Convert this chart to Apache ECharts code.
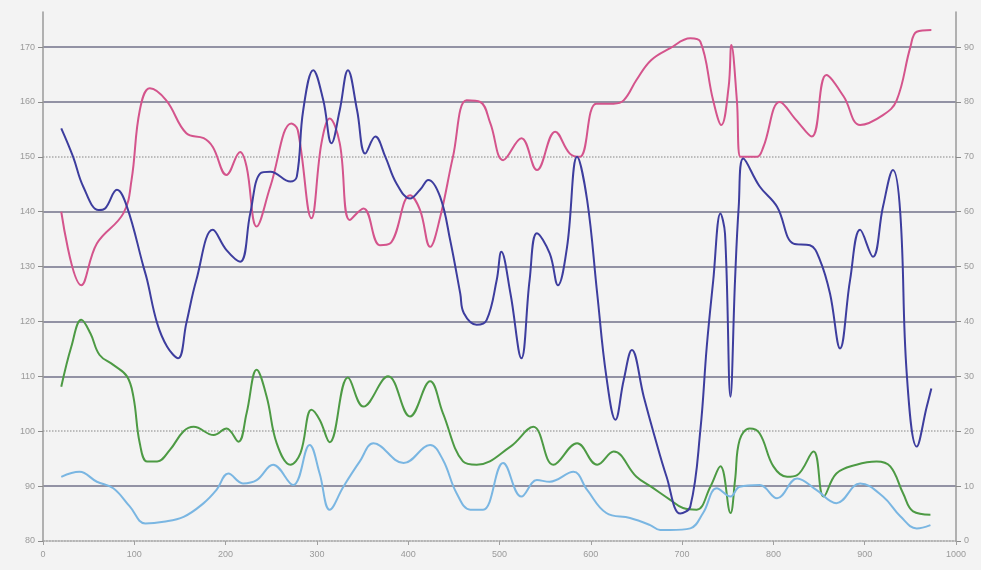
<!DOCTYPE html>
<html>
<head>
<meta charset="utf-8">
<script src="https://cdn.jsdelivr.net/npm/echarts@6/dist/echarts.min.js"></script>
<style>
  html, body { margin: 0; padding: 0; background: #f3f3f3; }
  #chart { width: 981px; height: 570px; }
</style>
</head>
<body>
<div id="chart"></div>
<script>
// pink + dark blue read against the left axis (80..170)
const pinkX = [20, 42, 59, 88, 97, 106, 117, 135, 157, 176, 186, 201, 216, 223, 234, 249, 272, 279, 294, 305, 314, 325, 336, 351, 369, 380, 402, 413, 424, 435, 449, 464, 479, 490, 504, 524, 541, 561, 577, 588, 606, 625, 636, 650, 666, 687, 709, 720, 734, 743, 751, 754, 760, 764, 782, 789, 807, 825, 842, 858, 877, 895, 920, 935, 950, 957, 973]
const pinkY = [140, 126.6, 134.2, 139.7, 145.8, 158.5, 162.5, 160.3, 154.3, 153.4, 151.8, 146.7, 150.9, 148.2, 137.3, 144.6, 156.1, 154.9, 138.8, 152.5, 157, 152.5, 138.5, 140.6, 133.9, 134.2, 143, 140.3, 133.6, 139, 150, 160.3, 160, 156.1, 149.4, 153.4, 147.6, 154.6, 150.6, 150, 159.7, 159.7, 160.3, 164, 167.6, 169.8, 171.6, 171, 160.3, 155.8, 162.8, 170.4, 160.3, 150, 150, 151.8, 160, 156.7, 153.7, 164.9, 161, 155.8, 157.6, 160.3, 170, 172.8, 173.1]

const navyX = [20, 33, 44, 61, 68, 81, 92, 110, 114, 125, 136, 148, 157, 168, 186, 201, 216, 227, 238, 249, 271, 278, 285, 296, 307, 316, 325, 334, 344, 353, 364, 375, 387, 402, 413, 422, 435, 446, 457, 461, 475, 486, 497, 502, 512, 524, 533, 541, 555, 564, 574, 585, 596, 607, 617, 627, 636, 645, 658, 669, 683, 698, 709, 720, 727, 734, 742, 747, 753, 758, 762, 767, 785, 804, 822, 840, 851, 862, 873, 884, 895, 909, 920, 931, 939, 946, 957, 968, 973]
const navyY = [155.2, 150, 144.6, 140.3, 140.6, 144, 140.9, 130, 127.6, 119.7, 115.4, 113.3, 119.7, 127.6, 136.7, 133, 130.9, 139.7, 147, 147.3, 145.5, 146.4, 158.5, 165.8, 160.3, 152.5, 158.5, 165.8, 158.5, 150.6, 153.7, 150, 145.2, 142.4, 144, 145.8, 142.7, 134.8, 125.1, 121.5, 119.4, 120.3, 127.6, 132.7, 125.1, 113.3, 127.6, 136.1, 132.4, 126.6, 133.6, 150, 142.1, 125.1, 110, 102.1, 109.3, 114.8, 106.3, 99.6, 91.7, 85, 86.3, 100.2, 115.4, 127.3, 139.7, 136, 106.3, 127.6, 140.9, 149.7, 144.6, 140.9, 134.2, 133.9, 131.2, 125.1, 115.1, 127.6, 136.7, 131.8, 140.9, 147.6, 139.7, 110.6, 97.2, 104.5, 107.8]

// green + light blue read against the right axis (0..90)
const greenX = [20, 31, 42, 52, 62, 77, 92, 99, 106, 114, 125, 139, 154, 165, 187, 201, 214, 223, 234, 245, 256, 271, 282, 294, 303, 314, 334, 351, 378, 402, 424, 438, 460, 475, 512, 537, 559, 585, 607, 625, 650, 666, 687, 701, 716, 731, 742, 753, 758, 763, 774, 785, 800, 815, 826, 844, 855, 869, 891, 913, 928, 942, 953, 972]
const greenY = [28.1, 35.4, 40.3, 37.8, 33.9, 32.1, 30, 26.3, 17.8, 14.5, 14.5, 16.6, 20, 20.8, 19.3, 20.5, 18.1, 23.3, 31.2, 26.3, 17.8, 13.9, 16, 23.9, 22.1, 18, 29.8, 24.5, 30, 22.7, 29.1, 23.3, 14.5, 13.9, 17.2, 20.8, 13.9, 17.8, 13.9, 16.3, 11.7, 9.9, 7.5, 6, 5.7, 9.9, 13.6, 5.1, 11.1, 18.4, 20.5, 19.6, 13.6, 11.7, 12, 16.3, 8.1, 12.3, 13.9, 14.5, 13.6, 8.7, 5.4, 4.8]

const skyX = [20, 40, 59, 77, 95, 112, 132, 154, 176, 190, 203, 219, 234, 252, 274, 292, 303, 314, 329, 347, 362, 395, 424, 438, 453, 468, 482, 504, 524, 541, 555, 581, 596, 617, 643, 665, 676, 687, 709, 723, 738, 753, 763, 785, 804, 826, 847, 869, 895, 920, 939, 957, 972]
const skyY = [11.7, 12.6, 10.8, 9.6, 6.3, 3.2, 3.5, 4.4, 6.9, 9.3, 12.3, 10.5, 11.1, 13.9, 10.2, 17.5, 12.3, 5.7, 9.9, 14.5, 17.8, 14.2, 17.5, 14.8, 8.7, 5.7, 5.7, 14.2, 8.1, 11.1, 10.8, 12.6, 9.3, 5.1, 4.2, 2.9, 2, 2, 2.3, 5.1, 9.6, 8.1, 9.9, 10.2, 7.8, 11.4, 9.3, 6.9, 10.5, 8.1, 4.5, 2.3, 2.9]

const pair = (xs, ys) => xs.map((x, i) => [x, ys[i]])

const labelStyle = {
  color: '#9a9a9a',
  fontSize: 9,
  fontFamily: 'Liberation Sans Narrow, Liberation Sans, sans-serif'
}
const dark = '#72728a'
const none = 'rgba(0,0,0,0)'
const light = '#aaaaaa'
const tens = v => (v % 10 === 0 ? String(v) : '')

function line (name, data, color, axis) {
  return {
    name,
    type: 'line',
    yAxisIndex: axis,
    data,
    smooth: 0.4,
    symbol: 'none',
    lineStyle: { color, width: 2 },
    z: 3
  }
}

const chart = echarts.init(document.getElementById('chart'))
chart.setOption({
  backgroundColor: '#f3f3f3',
  animation: false,
  grid: { left: 43, right: 25, top: 12, bottom: 29 },
  xAxis: {
    type: 'value',
    min: 0,
    max: 1000,
    interval: 100,
    axisLine: { lineStyle: { color: '#a0a0a0', type: 'dotted', width: 1.5 } },
    axisTick: { length: 4, lineStyle: { color: '#a0a0a0' } },
    axisLabel: Object.assign({ margin: 9, formatter: v => String(v) }, labelStyle),
    splitLine: { show: false }
  },
  yAxis: [
    {
      type: 'value',
      min: 80,
      max: 176.4,
      interval: 10,
      axisLine: { show: true, lineStyle: { color: '#9a9a9a', width: 1.5 } },
      axisTick: { show: true, length: 5, lineStyle: { color: '#8a8a8a' } },
      axisLabel: Object.assign({ margin: 8, showMaxLabel: false, formatter: tens }, labelStyle),
      splitLine: {
        show: true,
        showMaxLine: false,
        lineStyle: {
          width: 1.5,
          color: [none, dark, none, dark, dark, dark, dark, none, dark, dark, none]
        }
      }
    },
    {
      type: 'value',
      min: 0,
      max: 96.4,
      interval: 10,
      position: 'right',
      axisLine: { show: true, lineStyle: { color: '#9a9a9a', width: 1.5 } },
      axisTick: { show: true, length: 5, lineStyle: { color: '#8a8a8a' } },
      axisLabel: Object.assign({ margin: 8, showMaxLabel: false, formatter: tens }, labelStyle),
      splitLine: {
        show: true,
        showMaxLine: false,
        lineStyle: {
          width: 1.5,
          type: 'dotted',
          color: [none, none, light, none, none, none, none, light, none, none, none]
        }
      }
    }
  ],
  series: [
    line('green', pair(greenX, greenY), '#4d9a44', 1),
    line('sky', pair(skyX, skyY), '#7ab6e2', 1),
    line('pink', pair(pinkX, pinkY), '#d4548c', 0),
    line('navy', pair(navyX, navyY), '#3d3d9e', 0)
  ]
})
</script>
</body>
</html>
